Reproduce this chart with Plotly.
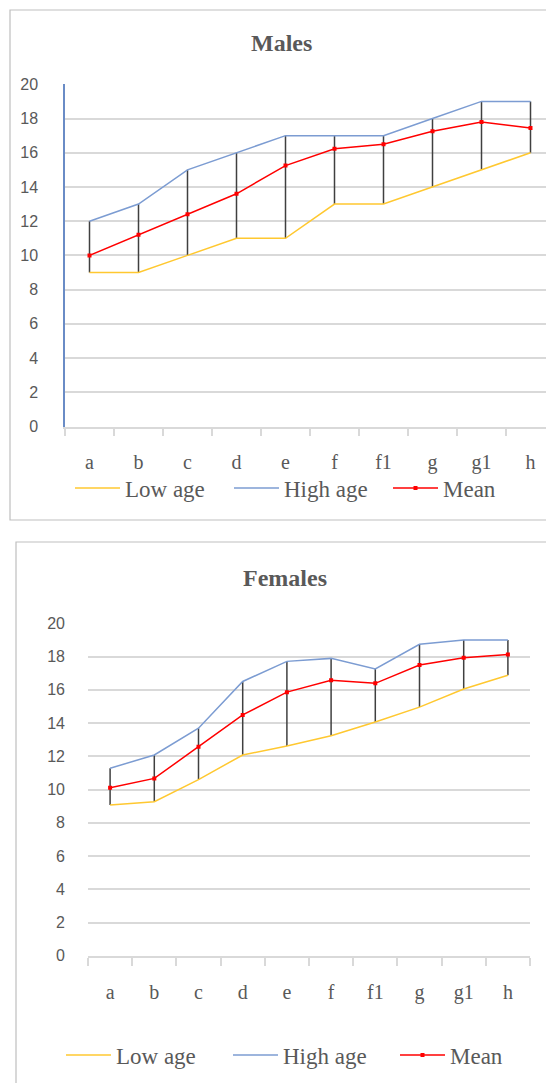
import plotly.graph_objects as go

W, H = 546, 1083

categories = ["a", "b", "c", "d", "e", "f", "f1", "g", "g1", "h"]
yticks = [0, 2, 4, 6, 8, 10, 12, 14, 16, 18, 20]

males_low = [9, 9, 10, 11, 11, 13, 13, 14, 15, 16]
males_high = [12, 13, 15, 16, 17, 17, 17, 18, 19, 19]
males_mean = [10.0, 11.2, 12.4, 13.6, 15.25, 16.23, 16.5, 17.25, 17.8, 17.45]

females_low = [9.07, 9.27, 10.6, 12.08, 12.62, 13.24, 14.06, 14.96, 16.05, 16.87]
females_high = [11.28, 12.08, 13.69, 16.5, 17.71, 17.89, 17.25, 18.74, 19.0, 19.0]
females_mean = [10.11, 10.67, 12.58, 14.49, 15.86, 16.57, 16.39, 17.49, 17.93, 18.13]

C_LOW = "#ffc830"
C_HIGH = "#7c9cd2"
C_MEAN = "#ff0000"
C_HILO = "#404040"
C_TXT = "#595959"
C_GRID = "#d9d9d9"
SERIF = "Liberation Serif"


def px_x(p):
    return p / W


def px_y(p):
    return 1 - p / H


def hilo(low, high):
    xs, ys = [], []
    for c, lo, hi in zip(categories, low, high):
        xs += [c, c, None]
        ys += [lo, hi, None]
    return xs, ys


fig = go.Figure()

panels = [
    ("x", "y", "legend", males_low, males_high, males_mean),
    ("x2", "y2", "legend2", females_low, females_high, females_mean),
]
for xa, ya, lg, low, high, mean in panels:
    hx, hy = hilo(low, high)
    fig.add_trace(go.Scatter(x=hx, y=hy, mode="lines", xaxis=xa, yaxis=ya,
                             line=dict(color=C_HILO, width=1.5), showlegend=False,
                             hoverinfo="skip"))
    fig.add_trace(go.Scatter(x=categories, y=low, name="Low age", mode="lines",
                             xaxis=xa, yaxis=ya, legend=lg,
                             line=dict(color=C_LOW, width=1.5)))
    fig.add_trace(go.Scatter(x=categories, y=high, name="High age", mode="lines",
                             xaxis=xa, yaxis=ya, legend=lg,
                             line=dict(color=C_HIGH, width=1.5)))
    fig.add_trace(go.Scatter(x=categories, y=mean, name="Mean", mode="lines+markers",
                             xaxis=xa, yaxis=ya, legend=lg,
                             line=dict(color=C_MEAN, width=1.5),
                             marker=dict(color=C_MEAN, size=4, symbol="square")))

xcommon = dict(type="category", categoryorder="array", categoryarray=categories,
               showgrid=False, ticks="outside", ticklen=8, tickcolor=C_GRID,
               tickwidth=1.5, tickson="boundaries", showline=True, linecolor=C_GRID,
               linewidth=1.5, tickfont=dict(family=SERIF, size=20, color=C_TXT),
               zeroline=False, automargin=False, ticklabelstandoff=17)
ycommon = dict(range=[0, 20], tickvals=yticks, showgrid=True, gridcolor=C_GRID,
               gridwidth=1.5, zeroline=False, ticks="", automargin=False,
               tickfont=dict(family="Liberation Sans", size=16, color=C_TXT))

fig.update_layout(
    width=W, height=H,
    margin=dict(l=0, r=0, t=0, b=0, autoexpand=False),
    paper_bgcolor="white", plot_bgcolor="white",
    showlegend=True,
    xaxis=dict(xcommon, domain=[px_x(65), 1.0], range=[-0.5, -0.5 + (W - 65) / 49.0],
               anchor="y"),
    yaxis=dict(ycommon, domain=[px_y(426.5), px_y(84.3)], anchor="x",
               showline=True, linecolor="#6a8cc6", linewidth=1.5, ticklabelstandoff=22),
    xaxis2=dict(xcommon, domain=[px_x(88), px_x(530)], range=[-0.5, 9.5], anchor="y2"),
    yaxis2=dict(ycommon, domain=[px_y(955.8), px_y(623.3)], anchor="x2",
                showline=False, ticklabelstandoff=22),
    legend=dict(orientation="h", x=px_x(70), xanchor="left", y=px_y(488), yanchor="middle",
                font=dict(family=SERIF, size=23, color=C_TXT), itemwidth=45,
                entrywidth=99, bgcolor="rgba(0,0,0,0)", tracegroupgap=0),
    legend2=dict(orientation="h", x=px_x(61), xanchor="left", y=px_y(1055), yanchor="middle",
                 font=dict(family=SERIF, size=23, color=C_TXT), itemwidth=45,
                 entrywidth=107, bgcolor="rgba(0,0,0,0)", tracegroupgap=0),
    annotations=[
        dict(text="<b>Males</b>", x=px_x(281), y=px_y(43), xref="paper", yref="paper",
             xanchor="center", yanchor="middle",
             showarrow=False, font=dict(family=SERIF, size=24, color=C_TXT)),
        dict(text="<b>Females</b>", x=px_x(285), y=px_y(578), xref="paper", yref="paper",
             xanchor="center", yanchor="middle",
             showarrow=False, font=dict(family=SERIF, size=24, color=C_TXT)),
    ],
    shapes=[
        dict(type="rect", xref="paper", yref="paper", x0=px_x(10), x1=px_x(600),
             y0=px_y(520), y1=px_y(10), line=dict(color="#bfbfbf", width=1.2), layer="below"),
        dict(type="rect", xref="paper", yref="paper", x0=px_x(16), x1=px_x(600),
             y0=px_y(1140), y1=px_y(542), line=dict(color="#bfbfbf", width=1.2), layer="below"),
    ],
)

fig.write_html("out.html", config={"displayModeBar": False},
               post_script="document.body.style.margin='0';document.body.style.overflow='hidden';")
